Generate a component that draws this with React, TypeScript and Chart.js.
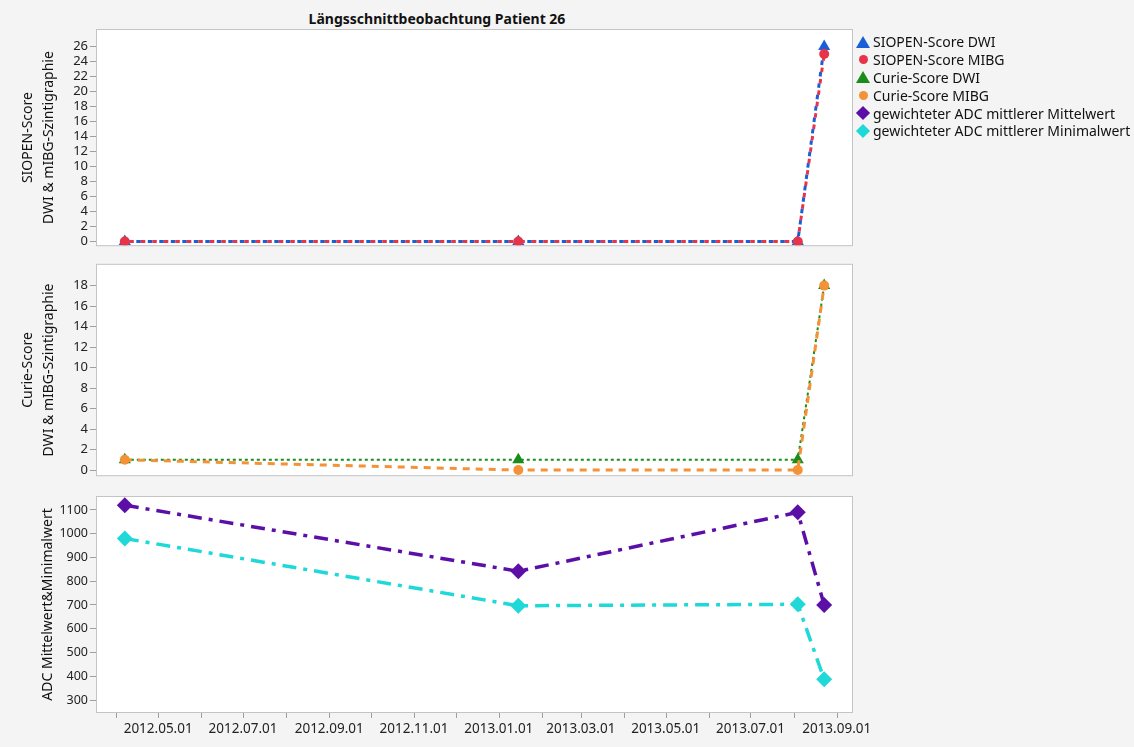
import React, { useEffect, useRef } from 'react';
import { Chart, registerables } from 'chart.js';

Chart.register(...registerables);

// ---- data ----
const visitDates = ['2012-04-07', '2013-01-15', '2013-08-04', '2013-08-23'];
const siopenDwi = [0, 0, 0, 26];
const siopenMibg = [0, 0, 0, 25];
const curieDwi = [1, 1, 1, 18];
const curieMibg = [1, 0, 0, 18];
const adcMean = [1120, 842, 1090, 700];
const adcMin = [980, 697, 703, 387];

const monthTicks = [
  '2012-04-01', '2012-05-01', '2012-06-01', '2012-07-01', '2012-08-01', '2012-09-01',
  '2012-10-01', '2012-11-01', '2012-12-01', '2013-01-01', '2013-02-01', '2013-03-01',
  '2013-04-01', '2013-05-01', '2013-06-01', '2013-07-01', '2013-08-01', '2013-09-01',
];
const labeledTicks = [
  '2012.05.01', '2012.07.01', '2012.09.01', '2012.11.01', '2013.01.01',
  '2013.03.01', '2013.05.01', '2013.07.01', '2013.09.01',
];
const xRange = ['2012-03-18', '2013-09-12'];

const yTicksSiopen = [0, 2, 4, 6, 8, 10, 12, 14, 16, 18, 20, 22, 24, 26];
const yRangeSiopen = [-0.5, 28.2];
const yTicksCurie = [0, 2, 4, 6, 8, 10, 12, 14, 16, 18];
const yRangeCurie = [-0.5, 20.03];
const yTicksAdc = [300, 400, 500, 600, 700, 800, 900, 1000, 1100];
const yRangeAdc = [249.5, 1154.7];

const titleText = 'Längsschnittbeobachtung Patient 26';
const legendItems = [
  { label: 'SIOPEN-Score DWI', color: '#1a5fd6', shape: 'triangle' },
  { label: 'SIOPEN-Score MIBG', color: '#e8344a', shape: 'circle' },
  { label: 'Curie-Score DWI', color: '#1a8c1a', shape: 'triangle' },
  { label: 'Curie-Score MIBG', color: '#f39237', shape: 'circle' },
  { label: 'gewichteter ADC mittlerer Mittelwert', color: '#5c0fa6', shape: 'diamond' },
  { label: 'gewichteter ADC mittlerer Minimalwert', color: '#1fd8d8', shape: 'diamond' },
];

// ---- helpers ----
const FONT = '"Noto Sans", "Open Sans", sans-serif';
const toDay = (s: string) => {
  const [y, m, d] = s.split('-').map(Number);
  return Date.UTC(y, m - 1, d) / 86400000;
};
const fromDay = (v: number) => {
  const dt = new Date(Math.round(v) * 86400000);
  const mm = String(dt.getUTCMonth() + 1).padStart(2, '0');
  const dd = String(dt.getUTCDate()).padStart(2, '0');
  return `${dt.getUTCFullYear()}.${mm}.${dd}`;
};
const pts = (vals: number[]) => vals.map((v, i) => ({ x: toDay(visitDates[i]), y: v }));

const panelPlugin = {
  id: 'panelBox',
  beforeDraw(chart: any) {
    const { ctx, chartArea } = chart;
    ctx.save();
    ctx.fillStyle = '#ffffff';
    ctx.fillRect(chartArea.left, chartArea.top, chartArea.width, chartArea.height);
    ctx.restore();
  },
  beforeDatasetsDraw(chart: any) {
    const { ctx, chartArea, scales } = chart;
    ctx.save();
    ctx.strokeStyle = '#c4c4c4';
    ctx.lineWidth = 1;
    ctx.strokeRect(chartArea.left - 0.5, chartArea.top - 0.5, chartArea.width + 1, chartArea.height + 1);
    const xs = scales.x;
    if (xs && xs.options.display) {
      ctx.strokeStyle = '#a0a0a0';
      ctx.beginPath();
      monthTicks.forEach((t) => {
        const px = Math.round(xs.getPixelForValue(toDay(t))) + 0.5;
        ctx.moveTo(px, chartArea.bottom + 1);
        ctx.lineTo(px, chartArea.bottom + 6);
      });
      ctx.stroke();
    }
    ctx.restore();
  },
};

const CANVAS_W = 900;

function makeConfig(datasets: any[], yTicks: number[], yRange: number[], yTitle: any, titlePad: number,
  tickFontSize: number, padding: any, showX: boolean) {
  return {
    type: 'line',
    data: { datasets },
    plugins: [panelPlugin],
    options: {
      responsive: false,
      animation: false,
      layout: { padding },
      plugins: { legend: { display: false }, tooltip: { enabled: false }, title: { display: false } },
      elements: { line: { tension: 0 } },
      scales: {
        x: {
          type: 'linear',
          display: showX,
          min: toDay(xRange[0]),
          max: toDay(xRange[1]),
          afterBuildTicks: (s: any) => { s.ticks = monthTicks.map((t) => ({ value: toDay(t) })); },
          afterFit: (s: any) => { if (showX) s.height = 35; },
          ticks: {
            autoSkip: false,
            maxRotation: 0,
            minRotation: 0,
            padding: 3,
            color: '#222',
            font: { family: FONT, size: 13.5 },
            callback: (v: number) => { const l = fromDay(v); return labeledTicks.includes(l) ? l : ''; },
          },
          grid: { display: false, drawOnChartArea: false, drawTicks: true, tickLength: 6 },
          border: { display: false },
        },
        y: {
          type: 'linear',
          min: yRange[0],
          max: yRange[1],
          afterBuildTicks: (s: any) => { s.ticks = yTicks.map((v) => ({ value: v })); },
          afterFit: (s: any) => { s.width = 97; },
          ticks: {
            color: '#222', font: { family: FONT, size: tickFontSize }, padding: 2, autoSkip: false,
            callback: (v: number) => String(v),
          },
          grid: { drawOnChartArea: false, drawTicks: true, tickLength: 7, color: '#a0a0a0' },
          border: { display: false },
          title: {
            display: true,
            text: yTitle,
            color: '#111',
            font: { family: FONT, size: 14, lineHeight: 1.5 },
            padding: { top: titlePad, bottom: 0 },
          },
        },
      },
    },
  };
}

function ChartPanel({ config, top, height }: { config: any; top: number; height: number }) {
  const ref = useRef<HTMLCanvasElement | null>(null);
  useEffect(() => {
    if (!ref.current) return;
    const chart = new Chart(ref.current, config);
    return () => chart.destroy();
  }, []);
  return (
    <canvas
      ref={ref}
      width={CANVAS_W}
      height={height}
      style={{ position: 'absolute', left: 0, top, width: CANVAS_W, height }}
    />
  );
}

function Marker({ shape, color }: { shape: string; color: string }) {
  if (shape === 'triangle') {
    return (
      <div style={{ width: 0, height: 0, borderLeft: '7px solid transparent', borderRight: '7px solid transparent',
        borderBottom: `12px solid ${color}` }} />
    );
  }
  if (shape === 'circle') {
    return <div style={{ width: 9, height: 9, borderRadius: '50%', background: color }} />;
  }
  return <div style={{ width: 10, height: 10, background: color, transform: 'rotate(45deg)' }} />;
}

export default function App() {
  useEffect(() => {
    document.body.style.margin = '0';
  }, []);

  const cfg1 = makeConfig(
    [
      { label: 'SIOPEN-Score MIBG', data: pts(siopenMibg), borderColor: '#e8344a', backgroundColor: '#e8344a',
        borderWidth: 3, borderDash: [4.5, 7], borderDashOffset: 7, pointStyle: 'circle', pointRadius: 5,
        pointBorderWidth: 0, order: 0 },
      { label: 'SIOPEN-Score DWI', data: pts(siopenDwi), borderColor: '#1a5fd6', backgroundColor: '#1a5fd6',
        borderWidth: 3, borderDash: [4.5, 7], pointStyle: 'triangle', pointRadius: 7, pointBorderWidth: 0, order: 1 },
    ],
    yTicksSiopen, yRangeSiopen, ['SIOPEN-Score', 'DWI & mIBG-Szintigraphie'], 17.5, 13,
    { top: 30, bottom: 9, left: 0, right: CANVAS_W - 852 }, false,
  );
  const cfg2 = makeConfig(
    [
      { label: 'Curie-Score MIBG', data: pts(curieMibg), borderColor: '#f39237', backgroundColor: '#f39237',
        borderWidth: 3, borderDash: [7, 6], pointStyle: 'circle', pointRadius: 5, pointBorderWidth: 0, order: 0 },
      { label: 'Curie-Score DWI', data: pts(curieDwi), borderColor: '#1a8c1a', backgroundColor: '#1a8c1a',
        borderWidth: 2, borderDash: [3, 3], pointStyle: 'triangle', pointRadius: 7, pointBorderWidth: 0, order: 1 },
    ],
    yTicksCurie, yRangeCurie, ['Curie-Score', 'DWI & mIBG-Szintigraphie'], 17.5, 13,
    { top: 8, bottom: 7, left: 0, right: CANVAS_W - 852 }, false,
  );
  const cfg3 = makeConfig(
    [
      { label: 'gewichteter ADC mittlerer Mittelwert', data: pts(adcMean), borderColor: '#5c0fa6',
        backgroundColor: '#5c0fa6', borderWidth: 3.5, borderDash: [14, 7, 4, 7], pointStyle: 'rectRot',
        pointRadius: 8, pointBorderWidth: 0 },
      { label: 'gewichteter ADC mittlerer Minimalwert', data: pts(adcMin), borderColor: '#1fd8d8',
        backgroundColor: '#1fd8d8', borderWidth: 3.5, borderDash: [14, 7, 4, 7], pointStyle: 'rectRot',
        pointRadius: 8, pointBorderWidth: 0 },
    ],
    yTicksAdc, yRangeAdc, 'ADC Mittelwert&Minimalwert', 37.5, 12.5,
    { top: 10, bottom: 0, left: 0, right: CANVAS_W - 852 }, true,
  );

  return (
    <div style={{ position: 'absolute', left: 0, top: 0, width: 1134, height: 747, background: '#f4f4f4',
      overflow: 'hidden', fontFamily: FONT }}>
      <div style={{ position: 'absolute', left: 0, top: 9, width: 874, textAlign: 'center', fontWeight: 700,
        fontSize: 14, color: '#111', lineHeight: '20px' }}>{titleText}</div>
      <ChartPanel config={cfg1} top={0} height={255} />
      <ChartPanel config={cfg2} top={255} height={230} />
      <ChartPanel config={cfg3} top={487} height={260} />
      <div style={{ position: 'absolute', left: 855, top: 33 }}>
        {legendItems.map((it) => (
          <div key={it.label} style={{ display: 'flex', alignItems: 'center', height: 17.8 }}>
            <div style={{ width: 16, display: 'flex', justifyContent: 'center', alignItems: 'center' }}>
              <Marker shape={it.shape} color={it.color} />
            </div>
            <span style={{ marginLeft: 2, fontSize: 14, color: '#111', whiteSpace: 'nowrap' }}>{it.label}</span>
          </div>
        ))}
      </div>
    </div>
  );
}
